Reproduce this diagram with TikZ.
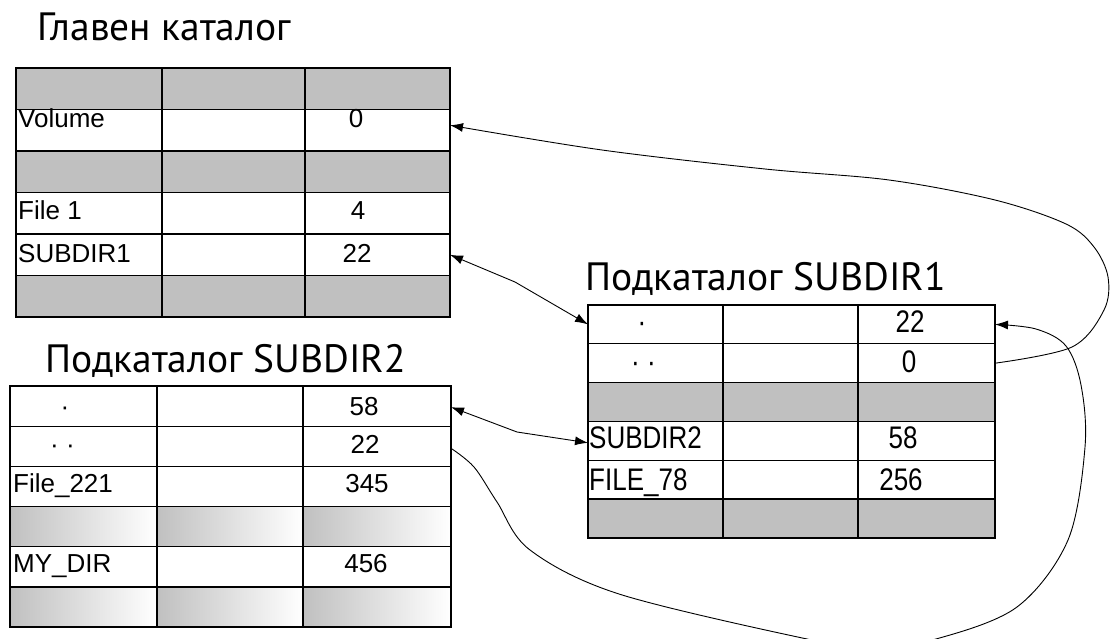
\documentclass[tikz,border=0pt]{standalone}
\usepackage{fontspec}
\setmainfont{Liberation Sans}
\newfontfamily\titlefont{PT Sans}
\usetikzlibrary{arrows.meta}
\definecolor{cellgray}{RGB}{192,192,192}

\begin{document}
\begin{tikzpicture}[x=1pt,y=-1pt,
  cell/.style={draw=black,line width=1.1pt,inner sep=0pt,outer sep=0pt},
  graycell/.style={fill=cellgray},
  whitecell/.style={fill=white},
  fadecell/.style={left color=cellgray,right color=white},
  frame/.style={draw=black,line width=2.4pt},
  txt/.style={font=\fontsize{26}{30}\selectfont,inner sep=0pt},
  tall/.style={txt,yscale=1.2},
  title/.style={font=\titlefont\fontsize{39.5}{44}\selectfont,inner sep=0pt,anchor=base west},
  link/.style={draw=black,line width=0.9pt,-{Latex[length=13pt,width=9pt]}}]

\useasboundingbox (0,0) rectangle (1110,639);

% main directory
\node[title] (title-m) at (37,41) {Главен каталог};
\foreach \r/\y/\f in {1/88.75/graycell,2/130.25/whitecell,3/171.75/graycell,4/213.25/whitecell,5/254.75/whitecell,6/296.25/graycell}
  \foreach \c/\x/\w in {1/89/146,2/233.5/143,3/377.5/145}
    \node[cell,\f,minimum width=\w,minimum height=41.5] (m-\r-\c) at (\x,\y) {};
\draw[frame] (m-1-1.north west) rectangle (m-6-3.south east);

\begin{scope}[every node/.style={txt}]
  \node[anchor=base west] (m-name-2) at (18,128) {Volume};
  \node[anchor=base] (m-num-2) at (356,128) {0};
  \node[anchor=base west] (m-name-4) at (18,219) {File 1};
  \node[anchor=base] (m-num-4) at (358,219) {4};
  \node[anchor=base west] (m-name-5) at (18,262) {SUBDIR1};
  \node[anchor=base] (m-num-5) at (357,262) {22};
\end{scope}

% SUBDIR1
\node[title] (title-s) at (585,290) {Подкаталог SUBDIR1};
\foreach \r/\y/\f in {1/324.4/whitecell,2/363.2/whitecell,3/402/graycell,4/440.8/whitecell,5/479.6/whitecell,6/518.4/graycell}
  \foreach \c/\x/\w in {1/655.5/135,2/790.5/135,3/926.5/137}
    \node[cell,\f,minimum width=\w,minimum height=38.8] (s-\r-\c) at (\x,\y) {};
\draw[frame] (s-1-1.north west) rectangle (s-6-3.south east);

\begin{scope}[every node/.style={tall}]
  \node[anchor=base] (s-name-1) at (642,332) {·};
  \node[anchor=base] (s-name-2) at (643.5,372) {· ·};
  \node[anchor=base] (s-num-1) at (910,332) {22};
  \node[anchor=base] (s-num-2) at (909,372) {0};
  \node[anchor=base west] (s-name-4) at (589,448) {SUBDIR2};
  \node[anchor=base] (s-num-4) at (903,448) {58};
  \node[anchor=base west] (s-name-5) at (589,490) {FILE\_78};
  \node[anchor=base] (s-num-5) at (901,490) {256};
\end{scope}

% SUBDIR2
\node[title] (title-t) at (45,372) {Подкаталог SUBDIR2};
\foreach \r/\y/\f in {1/406.1/whitecell,2/446.3/whitecell,3/486.5/whitecell,4/526.7/fadecell,5/566.9/whitecell,6/607.1/fadecell}
  \foreach \c/\x/\w in {1/83.5/147,2/230/146,3/377/148}
    \node[cell,\f,minimum width=\w,minimum height=40.2] (t-\r-\c) at (\x,\y) {};
\draw[frame] (t-1-1.north west) rectangle (t-6-3.south east);

\begin{scope}[every node/.style={txt}]
  \node[anchor=base] (t-name-1) at (65,415) {·};
  \node[anchor=base] (t-name-2) at (62.5,453) {· ·};
  \node[anchor=base] (t-num-1) at (364,415) {58};
  \node[anchor=base] (t-num-2) at (365,453) {22};
  \node[anchor=base west] (t-name-3) at (13,492) {File\_221};
  \node[anchor=base] (t-num-3) at (367,492) {345};
  \node[anchor=base west] (t-name-5) at (13,572) {MY\_DIR};
  \node[anchor=base] (t-num-5) at (366,572) {456};
\end{scope}

% links
\draw[link] plot[smooth,tension=0.55] coordinates {(s-2-3.east) (1072,347) (1104,310) (1108,277) (1094,247) (1066,224) (995,200) (889,180) (765,169) (602,150) ([yshift=5pt]m-2-3.east)};
\draw[link,{Latex[length=13pt,width=9pt]}-{Latex[length=13pt,width=9pt]}] (m-5-3.east) -- (515,282) -- (s-1-1.west);
\draw[link,{Latex[length=13pt,width=9pt]}-{Latex[length=13pt,width=9pt]}] ([yshift=-1pt]t-1-3.east) -- (517,432) -- ([yshift=-2pt]s-4-1.west);
\draw[link] plot[smooth,tension=0.55] coordinates {([yshift=-2pt]t-2-3.east) (474,467) (497,502) (530,550) (619,594) (807,639) (872,648) (936,639) (1017,607) (1068,540) (1085,447) (1081,385) (1066,346) (1036,329) (s-1-3.east)};

\end{tikzpicture}
\end{document}
